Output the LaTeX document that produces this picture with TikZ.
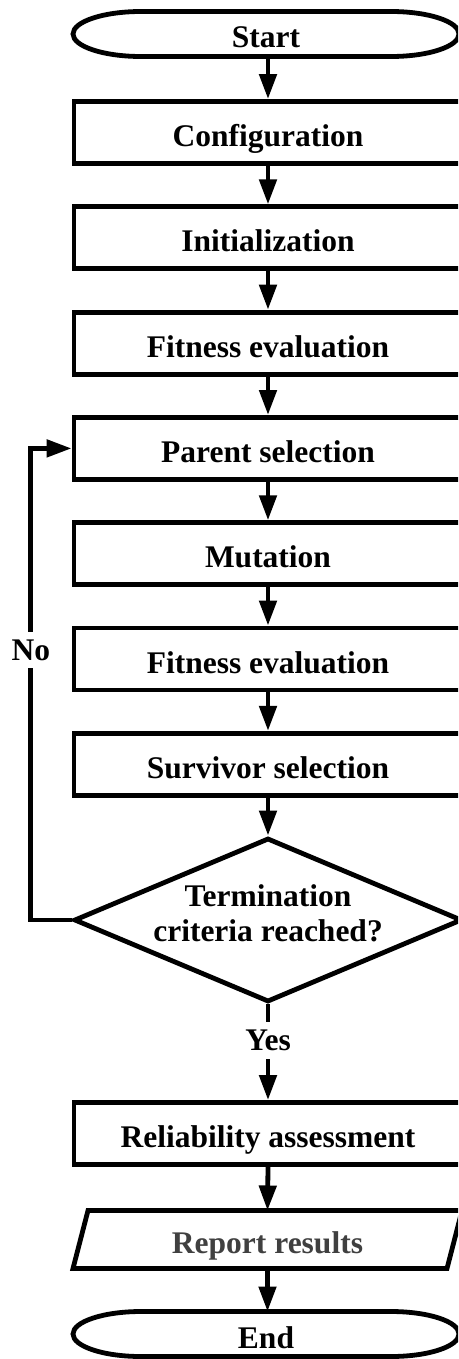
\documentclass[tikz,border=0pt]{standalone}
\usepackage{fontspec}
\setmainfont{Liberation Serif}
\usetikzlibrary{arrows.meta,shapes.geometric}

\definecolor{reptext}{RGB}{64,64,64}

% outline of a terminal (start/end) node: straight sides with elliptical ends
\newcommand\terminaloutline[1]{%
  \draw[line width=4.8pt]
    ([xshift=68pt]#1.north west) -- ([xshift=-68pt]#1.north east)
    arc[start angle=90,end angle=-90,x radius=68pt,y radius=22.5pt]
    -- ([xshift=68pt]#1.south west)
    arc[start angle=270,end angle=90,x radius=68pt,y radius=22.5pt] -- cycle;}

% outline of an input/output node: slanted parallelogram
\newcommand\iooutline[1]{%
  \draw[line width=4.8pt, line join=miter]
    (#1.south west) -- ([xshift=15pt]#1.north west) -- (#1.north east)
    -- ([xshift=-15pt]#1.south east) -- cycle;}

\begin{document}
\begin{tikzpicture}[x=1pt,y=1pt,
  every node/.style={font=\fontsize{31.5}{35.5}\selectfont\bfseries},
  stepbox/.style={draw, line width=4.8pt, minimum width=388pt, minimum height=62pt,
    inner sep=0pt, text height=28pt, text depth=0pt},
  terminal/.style={minimum width=386pt, minimum height=45pt, inner sep=0pt,
    outer sep=0pt, text height=28pt, text depth=0pt},
  iobox/.style={minimum width=389pt, minimum height=58pt, inner sep=0pt,
    outer sep=0pt, text height=28pt, text depth=0pt, text=reptext},
  decision/.style={diamond, draw, line width=4.8pt, minimum width=388pt,
    minimum height=164pt, inner sep=0pt, shape aspect=2.36,
    text height=0pt, text depth=28pt},
  branchlabel/.style={inner sep=0pt, text height=28pt, anchor=base},
  flow/.style={line width=4.8pt, -{Triangle[width=17pt,length=25pt]}},
  plain/.style={line width=4.8pt}
]
\clip (0,0) rectangle (458,-1359);

% nodes
\node[terminal] (start) at (266,-34) {Start};
\terminaloutline{start}
\node[stepbox] (conf) at (268,-132.5) {Configuration};
\node[stepbox] (init) at (268,-237.8) {Initialization};
\node[stepbox] (fit1) at (268,-343.1) {Fitness evaluation};
\node[stepbox] (par)  at (268,-448.4) {Parent selection};
\node[stepbox] (mut)  at (268,-553.7) {Mutation};
\node[stepbox] (fit2) at (268,-659.0) {Fitness evaluation};
\node[stepbox] (surv) at (268,-764.3) {Survivor selection};
\node[decision] (dec) at (268,-920)
  {\begin{tabular}[t]{@{}c@{}}Termination\\criteria reached?\end{tabular}};
\node[branchlabel, text depth=9pt] (yes) at (268,-1050) {Yes};
\node[branchlabel, text depth=8pt] (no) at (30.8,-660) {No};
\node[stepbox] (rel) at (268,-1133.5) {Reliability assessment};
\node[iobox] (rep) at (267.5,-1239.5) {Report results};
\iooutline{rep}
\node[terminal] (stop) at (266,-1334) {End};
\terminaloutline{stop}

% connectors
\draw[flow] (start.south -| conf.north) -- (conf.north);
\draw[flow] (conf) -- (init);
\draw[flow] (init) -- (fit1);
\draw[flow] (fit1) -- (par);
\draw[flow] (par) -- (mut);
\draw[flow] (mut) -- (fit2);
\draw[flow] (fit2) -- (surv);
\draw[flow] (surv) -- (dec);
\draw[plain] (dec.south) -- (yes.north);
\draw[flow] (yes.south) -- (rel.north);
\draw[flow] (rel.south) -- (rep.north);
\draw[flow] (rep.south) -- (rep.south |- stop.north);
\draw[plain, line join=miter] (dec.west) -| (no.south);
\draw[flow, line join=miter] (no.north) |- (par.west);
\end{tikzpicture}
\end{document}
